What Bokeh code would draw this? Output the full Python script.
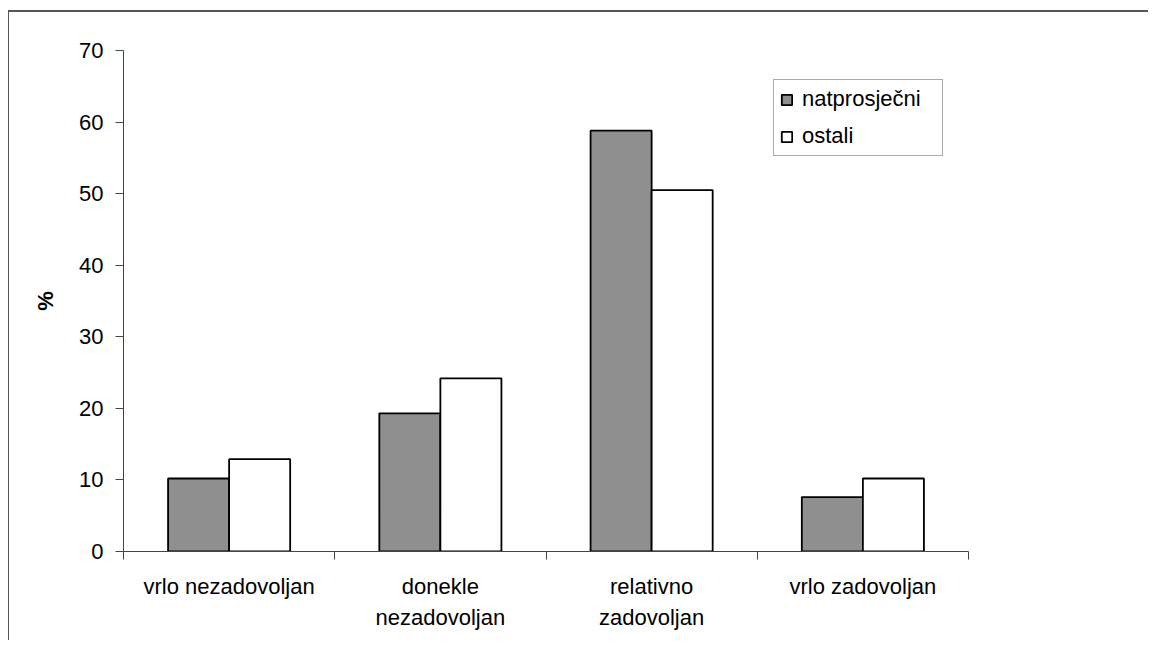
from bokeh.plotting import figure
from bokeh.models import (Range1d, FixedTicker, Legend, LegendItem, LinearAxis)
from bokeh.transform import dodge
from bokeh.models import ColumnDataSource
from bokeh.embed import file_html
from bokeh.resources import INLINE

categories = ["vrlo nezadovoljan", "donekle\nnezadovoljan", "relativno\nzadovoljan", "vrlo zadovoljan"]
natprosjecni = [10.2, 19.3, 58.8, 7.6]
ostali = [12.9, 24.2, 50.5, 10.2]
series_names = ["natprosječni", "ostali"]
y_ticks = [0, 10, 20, 30, 40, 50, 60, 70]

FONT = "Liberation Sans"
idx = [i + 0.5 for i in range(len(categories))]
src = ColumnDataSource(dict(x=idx, a=natprosjecni, b=ostali))

p = figure(width=1140, height=630, output_backend="svg", toolbar_location=None,
           x_range=Range1d(0, len(categories)), y_range=Range1d(0, 70),
           min_border_left=114, min_border_top=38, min_border_bottom=91, min_border_right=181)
p.styles = {"border-top": "2px solid #555555", "border-left": "1px solid #555555",
            "margin-top": "10px", "margin-left": "8px"}
p.outline_line_color = None
p.grid.visible = False
p.xaxis.visible = False
p.yaxis.visible = False

bw = 0.289
r1 = p.vbar(x=dodge("x", -bw / 2, range=p.x_range), top="a", width=bw, source=src,
            fill_color="#8f8f8f", line_color="#000000", line_width=1.8)
r2 = p.vbar(x=dodge("x", bw / 2, range=p.x_range), top="b", width=bw, source=src,
            fill_color="#ffffff", line_color="#000000", line_width=1.8)

yax = LinearAxis(ticker=FixedTicker(ticks=y_ticks, minor_ticks=[]))
yax.axis_label = "%"
yax.axis_label_text_font = FONT
yax.axis_label_text_font_size = "22px"
yax.axis_label_text_font_style = "bold"
yax.axis_label_text_color = "#000000"
yax.axis_label_standoff = 18
yax.major_label_text_font = FONT
yax.major_label_text_font_size = "22px"
yax.major_label_text_color = "#000000"
yax.major_label_standoff = 12
yax.major_tick_out = 8
yax.major_tick_in = 0
yax.minor_tick_out = 0
yax.axis_line_color = "#444444"
yax.major_tick_line_color = "#444444"
p.add_layout(yax, "left")

xax = LinearAxis(ticker=FixedTicker(ticks=idx, minor_ticks=list(range(len(categories) + 1))))
xax.major_label_overrides = {v: c for v, c in zip(idx, categories)}
xax.major_label_text_font = FONT
xax.major_label_text_font_size = "22px"
xax.major_label_text_color = "#000000"
xax.major_label_text_line_height = 1.25
xax.major_label_standoff = 14
xax.major_tick_out = 0
xax.major_tick_in = 0
xax.minor_tick_out = 8
xax.minor_tick_in = 0
xax.axis_line_color = "#444444"
xax.minor_tick_line_color = "#444444"
p.add_layout(xax, "below")

legend = Legend(items=[LegendItem(label=series_names[0], renderers=[r1]),
                       LegendItem(label=series_names[1], renderers=[r2])],
                location=(650, 395))
legend.label_text_font = FONT
legend.label_text_font_size = "22px"
legend.label_text_color = "#000000"
legend.label_width = 134
legend.glyph_width = 13
legend.glyph_height = 13
legend.label_standoff = 9
legend.padding = 6
legend.spacing = 11
legend.margin = 0
legend.border_line_color = "#555555"
legend.border_line_width = 1
legend.background_fill_alpha = 1
p.add_layout(legend, "center")

open("out.html", "w").write(file_html(p, INLINE))
